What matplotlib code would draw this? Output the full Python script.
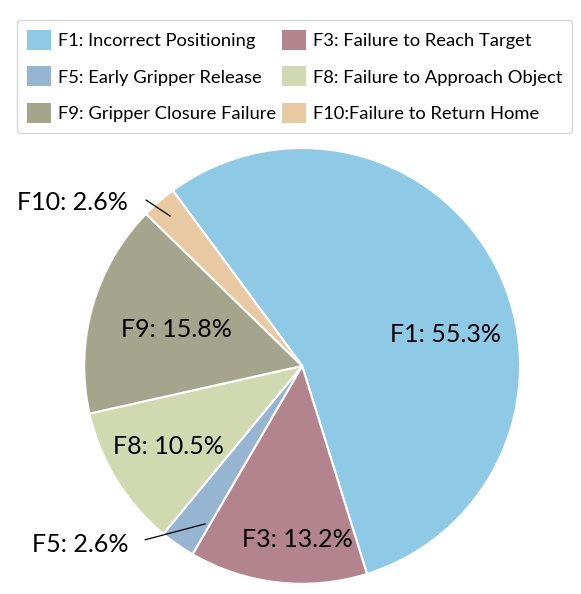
import matplotlib
matplotlib.use("Agg")
import matplotlib.pyplot as plt
from matplotlib.patches import Patch

plt.rcParams['font.family'] = ['Lato', 'DejaVu Sans']

codes = ["F1", "F3", "F5", "F8", "F9", "F10"]
names = ["F1: Incorrect Positioning", "F3: Failure to Reach Target",
         "F5: Early Gripper Release", "F8: Failure to Approach Object",
         "F9: Gripper Closure Failure", "F10:Failure to Return Home"]
shares = [55.3, 13.2, 2.6, 10.5, 15.8, 2.6]
colors = ["#8ECAE6", "#B3838E", "#95B5D0", "#D1D9B0", "#A5A48C", "#E8C9A2"]

fig = plt.figure(figsize=(5.81, 5.94), dpi=100)
ax = fig.add_axes([0.145, 0.017, 0.75, 0.734])

wedges, _ = ax.pie(shares, colors=colors, startangle=126.4, counterclock=False,
                   wedgeprops=dict(edgecolor="white", linewidth=1.5))
ax.set_xlim(-1, 1)
ax.set_ylim(-1, 1)
ax.set_aspect("equal")

# label spots (data units, radius = 1)
inside = {"F1": (0.656, 0.142), "F3": (-0.023, -0.798),
          "F8": (-0.615, -0.372), "F9": (-0.578, 0.165)}
outside = {"F10": ((-1.055, 0.748), (-0.716, 0.761), (-0.606, 0.688)),
           "F5": ((-1.018, -0.821), (-0.72, -0.798), (-0.445, -0.725))}

for code, val in zip(codes, shares):
    txt = f"{code}: {val}%"
    if code in inside:
        ax.text(*inside[code], txt, ha="center", va="center", fontsize=18)
    else:
        pos, a, b = outside[code]
        ax.text(*pos, txt, ha="center", va="center", fontsize=18, clip_on=False)
        ax.plot([a[0], b[0]], [a[1], b[1]], color="black", lw=0.9, clip_on=False)

handles = [Patch(facecolor=c, edgecolor="none") for c in colors]
order = [0, 2, 4, 1, 3, 5]
fig.legend([handles[i] for i in order], [names[i] for i in order],
           loc="upper center", bbox_to_anchor=(0.507, 0.982), ncol=2,
           fontsize=13.2, frameon=True, fancybox=True, edgecolor="#CCCCCC",
           handlelength=1.3, handleheight=1.3, handletextpad=0.4,
           columnspacing=0.3, labelspacing=0.9, borderpad=0.55)

fig.savefig("out.png", dpi=100)
